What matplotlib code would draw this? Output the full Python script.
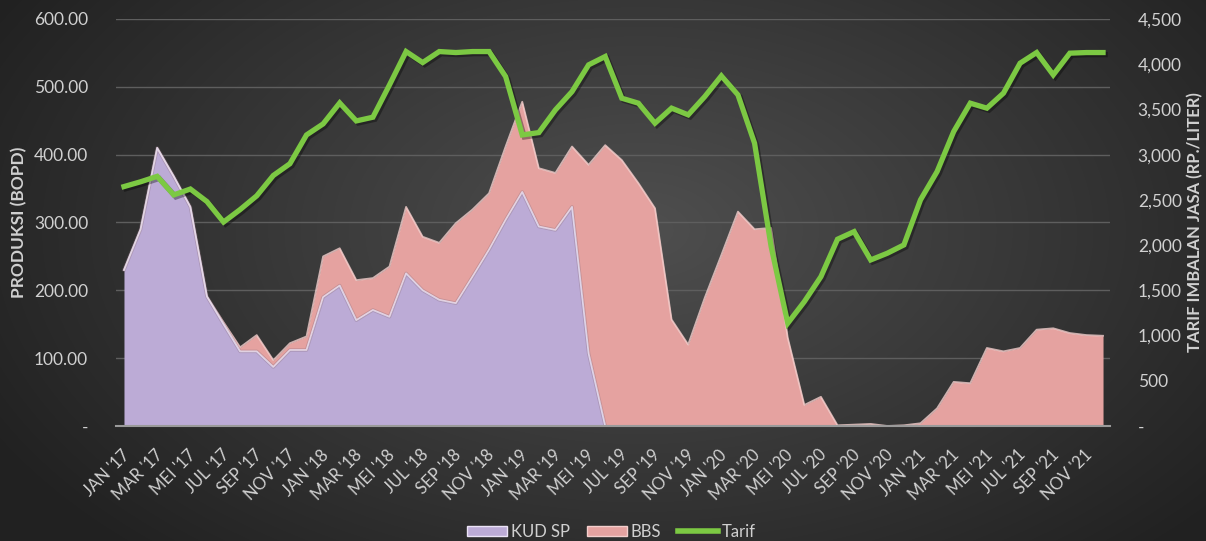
import numpy as np
import matplotlib.pyplot as plt
from matplotlib.patches import Patch
from matplotlib.lines import Line2D
from matplotlib.ticker import FixedLocator, FuncFormatter
from matplotlib.transforms import ScaledTranslation
import matplotlib.patheffects as pe

plt.rcParams['font.family'] = ['Lato', 'DejaVu Sans']

# monthly data JAN '17 .. DEC '21
bulan = ["JAN", "FEB", "MAR", "APR", "MEI", "JUN", "JUL", "AGU", "SEP", "OKT", "NOV", "DES"]
tahun = ["17", "18", "19", "20", "21"]
labels = [f"{b} '{t}" for t in tahun for b in bulan]

kud_sp = [230, 290, 410, 368, 323, 191, 150, 110, 110, 87, 112, 112,
          190, 207, 156, 171, 161, 225, 200, 186, 181, 220, 260, 304,
          345, 294, 289, 323, 107, 0, 0, 0, 0, 0, 0, 0,
          0, 0, 0, 0, 0, 0, 0, 0, 0, 0, 0, 0,
          0, 0, 0, 0, 0, 0, 0, 0, 0, 0, 0, 0]
bbs = [0, 0, 0, 0, 0, 0, 3, 6, 24, 10, 10, 20,
       60, 55, 59, 47, 74, 98, 79, 84, 118, 99, 83, 108,
       133, 86, 84, 89, 278, 414, 392, 358, 321, 157, 120, 189,
       252, 316, 290, 292, 130, 31, 43, 1, 2, 3, 0, 1,
       4, 26, 65, 63, 115, 110, 115, 142, 144, 137, 134, 133]
tarif = [2647, 2700, 2760, 2555, 2620, 2481, 2255, 2393, 2545, 2770, 2900, 3218,
         3340, 3572, 3373, 3414, 3771, 4140, 4018, 4140, 4129, 4140, 4140, 3863,
         3218, 3244, 3495, 3697, 3993, 4085, 3624, 3569, 3348, 3514, 3440, 3642,
         3871, 3661, 3127, 1983, 1136, 1375, 1651, 2065, 2149, 1836, 1910, 2002,
         2500, 2813, 3255, 3569, 3514, 3680, 4011, 4129, 3882, 4122, 4129, 4129]

c_kud = "#bcabd6"
c_bbs = "#e5a2a0"
c_tarif = "#7cc943"
c_text = "#d0d0d0"

fig = plt.figure(figsize=(12.06, 5.41), dpi=100)

# radial gray background
bg = fig.add_axes([0, 0, 1, 1], zorder=-10)
yy, xx = np.mgrid[0:541, 0:1206]
r = np.sqrt(((xx - 640) / 700.0) ** 2 + ((yy - 230) / 420.0) ** 2)
shade = np.clip(0.31 - 0.17 * r, 0.13, 0.31)
bg.imshow(np.dstack([shade] * 3), aspect="auto", extent=[0, 1, 0, 1])
bg.axis("off")

ax = fig.add_axes([0.0962, 0.2126, 0.9204 - 0.0962, 0.9649 - 0.2126])
ax.set_facecolor("none")
x = np.arange(len(kud_sp))
kud = np.array(kud_sp)
tot = kud + np.array(bbs)

ax.fill_between(x, 0, kud, color=c_kud, lw=0, zorder=2)
ax.fill_between(x, kud, tot, color=c_bbs, lw=0, zorder=2)
# bevel-ish edges
ax.plot(x, tot, color="#f4cfcd", lw=1.3, zorder=3, alpha=0.8)
ax.plot(x[:30], kud[:30], color="#ece4f7", lw=1.3, zorder=3, alpha=0.8,
        path_effects=[pe.withStroke(linewidth=2.5, foreground="#8a6e7e", alpha=0.35)])

ax.set_xlim(-0.48, 59.42)
ax.set_ylim(0, 600)
ax.yaxis.set_major_locator(FixedLocator([0, 100, 200, 300, 400, 500, 600]))
ax.yaxis.set_major_formatter(FuncFormatter(lambda v, p: "-" if v == 0 else f"{v:.2f}"))
ax.grid(axis="y", color="#5e5e5e", lw=1, zorder=0)
ax.set_axisbelow(True)
for s in ["top", "right", "left"]:
    ax.spines[s].set_visible(False)
ax.spines["bottom"].set_color("#9a9a9a")
ax.spines["bottom"].set_linewidth(1.5)
ax.spines["bottom"].set_zorder(5)
ax.tick_params(axis="both", length=0, colors=c_text, labelsize=12.5)
ax.tick_params(axis="y", pad=20)
ax.set_xticks(x[::2])
ax.set_xticklabels(labels[::2], rotation=45, ha="right", va="center",
                   rotation_mode="anchor", fontsize=12)
ax.tick_params(axis="x", pad=19)
off = ScaledTranslation(0.03, 0, fig.dpi_scale_trans)
for t in ax.get_xticklabels():
    t.set_transform(t.get_transform() + off)
ax.set_ylabel("PRODUKSI (BOPD)", color=c_text, fontsize=12.5, fontweight="bold", labelpad=5)

ax2 = ax.twinx()
ax2.set_ylim(0, 4500)
ax2.plot(x, tarif, color=c_tarif, lw=3.8, solid_joinstyle="miter", zorder=4,
         path_effects=[pe.SimpleLineShadow(offset=(1.5, -1.5), shadow_color="black", alpha=0.35),
                       pe.Normal()])
ax2.yaxis.set_major_locator(FixedLocator(np.arange(0, 4501, 500)))
ax2.yaxis.set_major_formatter(FuncFormatter(lambda v, p: "-" if v == 0 else f"{v:,.0f}"))
for s in ["top", "right", "left", "bottom"]:
    ax2.spines[s].set_visible(False)
ax2.tick_params(axis="y", length=0, colors=c_text, labelsize=12.5, pad=20)
ax2.set_ylabel("TARIF IMBALAN JASA (RP./LITER)", color=c_text, fontsize=12,
               fontweight="bold", labelpad=4)

handles = [Patch(facecolor=c_kud, edgecolor="#ece4f7", lw=1),
           Patch(facecolor=c_bbs, edgecolor="#f4cfcd", lw=1),
           Line2D([0], [0], color=c_tarif, lw=4)]
leg = fig.legend(handles, ["KUD SP", "BBS", "Tarif"], loc="center",
                 bbox_to_anchor=(0.507, 0.017), ncol=3, frameon=False,
                 fontsize=12, labelcolor=c_text, handlelength=2.4, handleheight=0.55,
                 handletextpad=0.25, columnspacing=1.0, borderpad=0)

fig.savefig("out.png", dpi=100)
